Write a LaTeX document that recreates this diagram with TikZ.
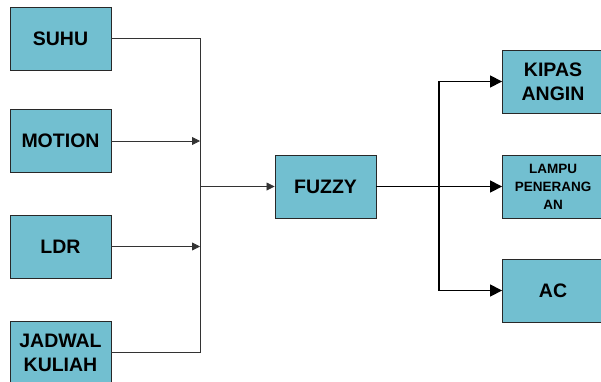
\documentclass[tikz,border=0pt]{standalone}
\usepackage{fontspec}
\setmainfont{Liberation Sans}
\usetikzlibrary{arrows.meta}
\definecolor{boxfill}{RGB}{114,191,208}
\definecolor{boxline}{RGB}{40,40,40}
\tikzset{
  blk/.style={draw=boxline, line width=0.9pt, fill=boxfill, minimum width=101pt, minimum height=63pt, inner sep=0pt, align=center, font=\bfseries\fontsize{19.5}{24}\selectfont},
  small/.style={font=\bfseries\fontsize{13.5}{18}\selectfont},
  thin/.style={line width=0.8pt, draw=black!80},
  thick/.style={line width=1.6pt, draw=black},
  sarr/.style={-{Triangle[length=8pt,width=8pt]}},
  barr/.style={-{Triangle[length=12pt,width=12pt]}},
}
\begin{document}
\begin{tikzpicture}[x=1pt,y=-1pt]
\useasboundingbox (0,0) rectangle (601,381);
\clip (0,0) rectangle (601,381);
\node[blk] (suhu) at (60.5,38.5) {SUHU};
\node[blk] (motion) at (60.5,141) {MOTION};
\node[blk] (ldr) at (60.5,246.5) {LDR};
\node[blk] (jadwal) at (60.5,352.5) {JADWAL\\KULIAH};
\node[blk] (fuzzy) at (325.5,186.5) {FUZZY};
\node[blk] (kipas) at (553,81.5) {KIPAS\\ANGIN};
\node[blk, small] (lampu) at (553,186.5) {LAMPU\\PENERANG\\AN};
\node[blk] (ac) at (553,290.5) {AC};
\coordinate (jn) at (200,186.5);
\coordinate (rj) at (439,186.5);
\draw[thin] (suhu.east) -| (jadwal.east -| jn) -- (jadwal.east);
\draw[thin, sarr] (motion.east) -- (motion.east -| jn);
\draw[thin, sarr] (ldr.east) -- (ldr.east -| jn);
\draw[thin, sarr] (jn) -- (fuzzy.west);
\draw[thick, barr] (fuzzy.east) -- (lampu.west);
\draw[thick, {Triangle[length=12pt,width=12pt]}-{Triangle[length=12pt,width=12pt]}] (kipas.west) -| (ac.west -| rj) -- (ac.west);
\end{tikzpicture}
\end{document}
